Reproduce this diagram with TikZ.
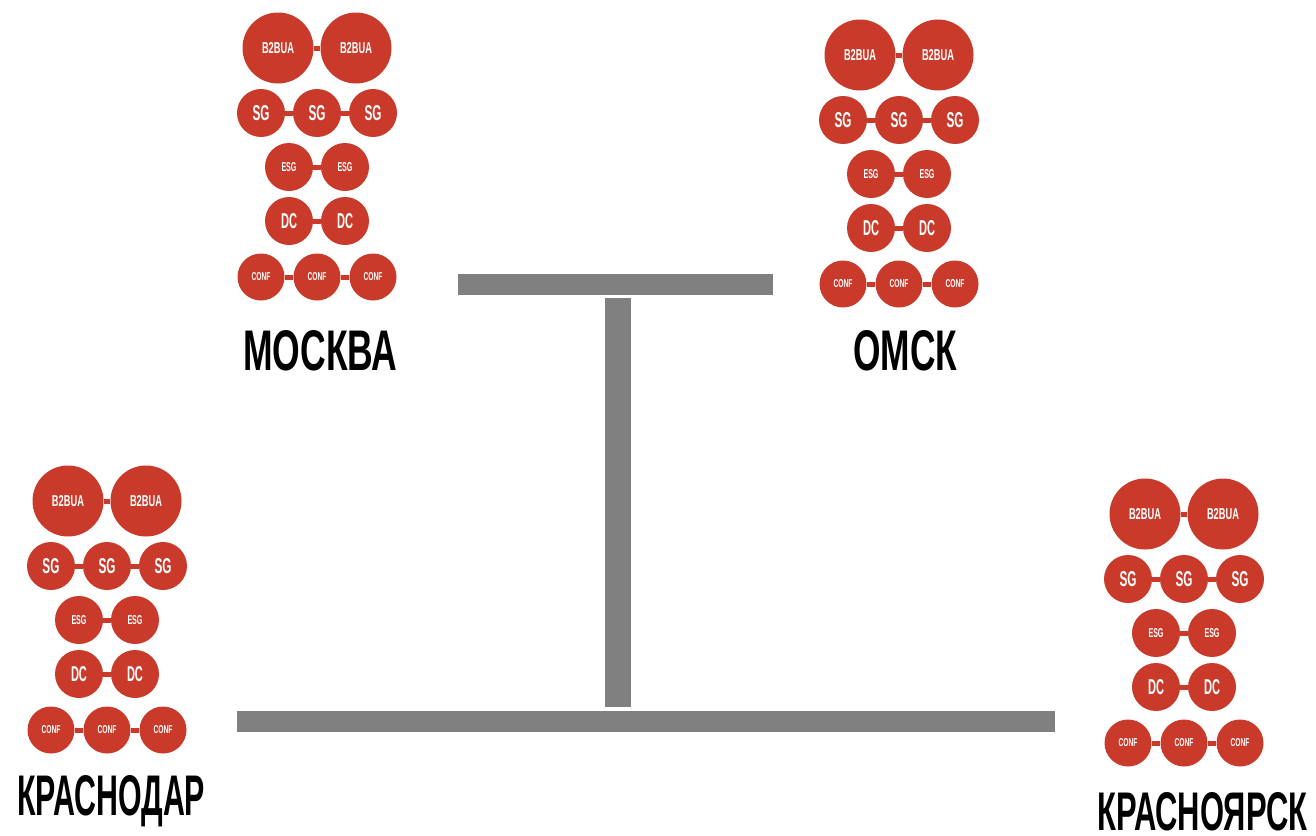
\documentclass[tikz,border=0pt]{standalone}
\usepackage{fontspec}
\usepackage{graphicx}
\setmainfont{Liberation Sans}
\definecolor{nodered}{RGB}{201,58,42}
\definecolor{bargray}{RGB}{128,128,128}
\tikzset{
  bignode/.style={circle,fill=nodered,minimum size=71pt,inner sep=0pt,text=white},
  smallnode/.style={circle,fill=nodered,minimum size=48pt,inner sep=0pt,text=white},
  confnode/.style={circle,fill=nodered,minimum size=47pt,inner sep=0pt,text=white},
  conn/.style={draw=nodered,line width=5pt},
  bar/.style={fill=bargray},
  city/.style={inner sep=0pt,anchor=base west,text=black}
}
\newcommand\tx[3]{\resizebox{#1pt}{#2pt}{\bfseries #3}}
\newcommand\drawcluster[3]{%
  \node[bignode] (#1b1) at (#2-39,#3) {\tx{32}{11}{B2BUA}};
  \node[bignode] (#1b2) at (#2+39,#3) {\tx{32}{11}{B2BUA}};
  \node[smallnode] (#1s1) at (#2-56,#3+65) {\tx{17}{15}{SG}};
  \node[smallnode] (#1s2) at (#2,#3+65) {\tx{17}{15}{SG}};
  \node[smallnode] (#1s3) at (#2+56,#3+65) {\tx{17}{15}{SG}};
  \node[smallnode] (#1e1) at (#2-28,#3+119) {\tx{15}{9}{ESG}};
  \node[smallnode] (#1e2) at (#2+28,#3+119) {\tx{15}{9}{ESG}};
  \node[smallnode] (#1d1) at (#2-28,#3+173) {\tx{16}{15}{DC}};
  \node[smallnode] (#1d2) at (#2+28,#3+173) {\tx{16}{15}{DC}};
  \node[confnode] (#1c1) at (#2-56,#3+229) {\tx{19}{8}{CONF}};
  \node[confnode] (#1c2) at (#2,#3+229) {\tx{19}{8}{CONF}};
  \node[confnode] (#1c3) at (#2+56,#3+229) {\tx{19}{8}{CONF}};
  \draw[conn] (#1b1) -- (#1b2);
  \draw[conn] (#1s1) -- (#1s2);
  \draw[conn] (#1s2) -- (#1s3);
  \draw[conn] (#1e1) -- (#1e2);
  \draw[conn] (#1d1) -- (#1d2);
  \draw[conn] (#1c1) -- (#1c2);
  \draw[conn] (#1c2) -- (#1c3);
}
\begin{document}
\begin{tikzpicture}[x=1pt,y=-1pt]
  \useasboundingbox (0,0) rectangle (1316,835);
  % clusters
  \drawcluster{msk}{317}{48}
  \drawcluster{omsk}{899}{55}
  \drawcluster{krd}{107}{501}
  \drawcluster{kry}{1184}{514}
  % city labels
  \node[city] (lmsk) at (243,370) {\tx{154}{40}{МОСКВА}};
  \node[city] (lomsk) at (853,370) {\tx{104}{40}{ОМСК}};
  \node[city] (lkrd) at (17,815) {\tx{188}{40}{КРАСНОДАР}};
  \node[city] (lkry) at (1097,830) {\tx{210}{38}{КРАСНОЯРСК}};
  % network bars
  \fill[bar] (458,274) rectangle (773,295);
  \fill[bar] (605,298) rectangle (631,707);
  \fill[bar] (237,711) rectangle (1055,732);
\end{tikzpicture}
\end{document}
